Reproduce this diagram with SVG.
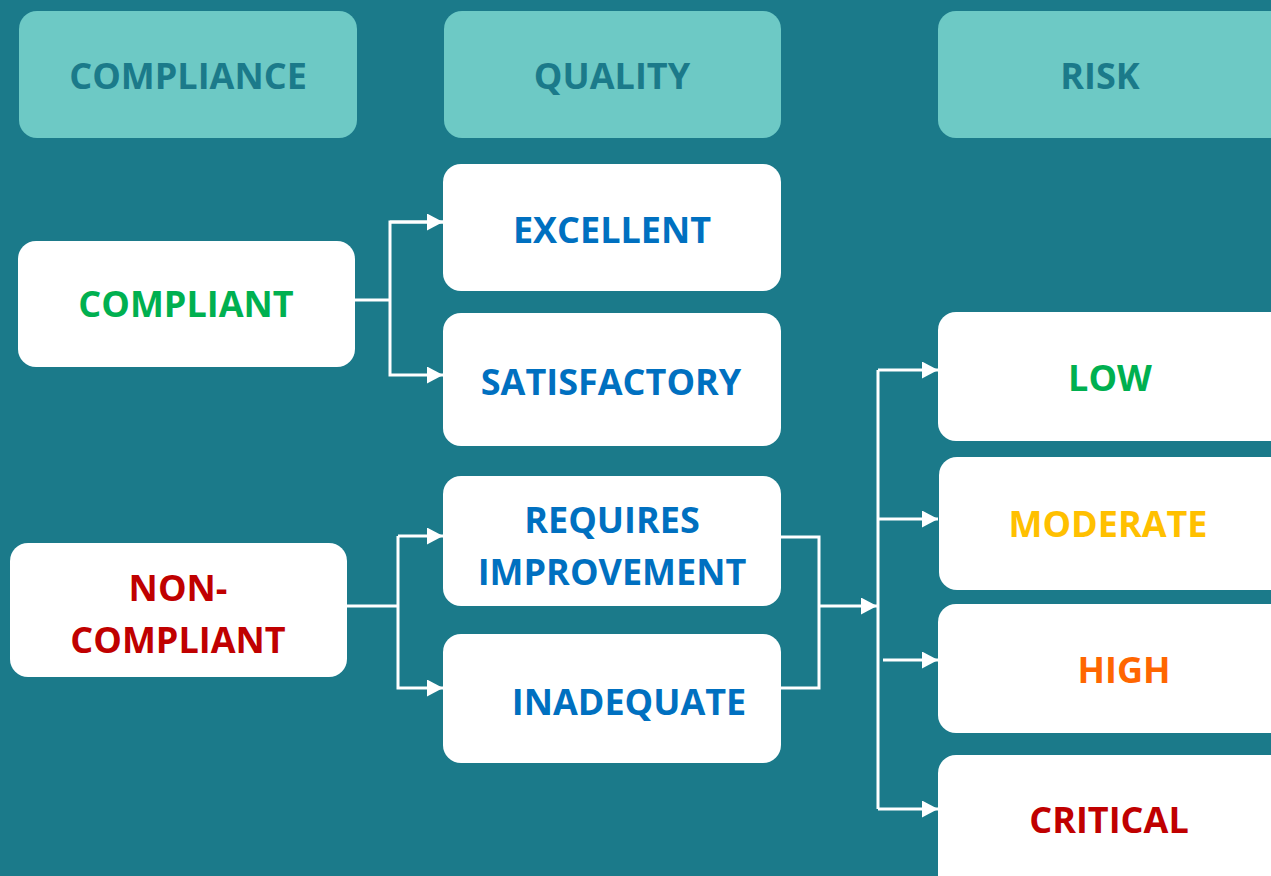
<svg xmlns="http://www.w3.org/2000/svg" width="1271" height="876" viewBox="0 0 1271 876">
<style>
.hdr{fill:#6DC9C5}
.box{fill:#FFFFFF}
text{font-family:"Open Sans","Liberation Sans",sans-serif;font-weight:bold;font-size:36px;text-anchor:middle}
.ht{fill:#1B7A8A}
.g{fill:#00B050}.b{fill:#0070C0}.r{fill:#C00000}.a{fill:#FFC000}.o{fill:#FF6600}
.ln{fill:none;stroke:#FFFFFF;stroke-width:3}
</style>
<defs>
<marker id="arr" viewBox="0 0 16 17" refX="16" refY="8.5" markerWidth="16" markerHeight="17" markerUnits="userSpaceOnUse" orient="auto">
<path d="M0,0 L16,8.5 L0,17 Z" fill="#FFFFFF"/>
</marker>
</defs>
<rect width="1271" height="876" fill="#1B7A8A"/>
<g id="h-compliance"><rect class="hdr" x="19" y="11" width="338" height="127" rx="18"/><text class="ht" x="188" y="89">COMPLIANCE</text></g>
<g id="h-quality"><rect class="hdr" x="444" y="11" width="337" height="127" rx="18"/><text class="ht" x="612" y="89">QUALITY</text></g>
<g id="h-risk"><rect class="hdr" x="938" y="11" width="360" height="127" rx="18"/><text class="ht" x="1100" y="89">RISK</text></g>

<g id="compliant"><rect class="box" x="18" y="241" width="337" height="126" rx="18"/><text class="g" x="186" y="317">COMPLIANT</text></g>
<g id="non-compliant"><rect class="box" x="10" y="543" width="337" height="134" rx="18"/><text class="r" x="178" y="601">NON-</text><text class="r" x="178" y="653">COMPLIANT</text></g>

<g id="excellent"><rect class="box" x="443" y="164" width="338" height="127" rx="18"/><text class="b" x="612" y="243">EXCELLENT</text></g>
<g id="satisfactory"><rect class="box" x="443" y="313" width="338" height="133" rx="18"/><text class="b" x="611" y="395">SATISFACTORY</text></g>
<g id="requires-improvement"><rect class="box" x="443" y="476" width="338" height="130" rx="18"/><text class="b" x="612" y="533">REQUIRES</text><text class="b" x="612" y="585">IMPROVEMENT</text></g>
<g id="inadequate"><rect class="box" x="443" y="634" width="338" height="129" rx="18"/><text class="b" x="629" y="715">INADEQUATE</text></g>

<g id="low"><rect class="box" x="938" y="312" width="360" height="129" rx="18"/><text class="g" x="1110" y="391">LOW</text></g>
<g id="moderate"><rect class="box" x="939" y="457" width="360" height="133" rx="18"/><text class="a" x="1108" y="537">MODERATE</text></g>
<g id="high"><rect class="box" x="938" y="604" width="360" height="129" rx="18"/><text class="o" x="1124" y="683">HIGH</text></g>
<g id="critical"><rect class="box" x="938" y="755" width="360" height="140" rx="18"/><text class="r" x="1109" y="833">CRITICAL</text></g>

<g id="connectors">
<path class="ln" d="M355,300 H390"/>
<path class="ln" d="M443,222 H390 V375 H443" marker-end="url(#arr)"/>
<path class="ln" d="M390,222 H443" marker-end="url(#arr)"/>
<path class="ln" d="M347,606 H398"/>
<path class="ln" d="M398,536 H443" marker-end="url(#arr)"/>
<path class="ln" d="M398,536 V688 H443" marker-end="url(#arr)"/>
<path class="ln" d="M781,537 H819 V688 H781"/>
<path class="ln" d="M819,606 H877" marker-end="url(#arr)"/>
<path class="ln" d="M878,370 V809"/>
<path class="ln" d="M878,370 H938" marker-end="url(#arr)"/>
<path class="ln" d="M878,519 H938" marker-end="url(#arr)"/>
<path class="ln" d="M883,660 H938" marker-end="url(#arr)"/>
<path class="ln" d="M878,809 H938" marker-end="url(#arr)"/>
</g>
</svg>
